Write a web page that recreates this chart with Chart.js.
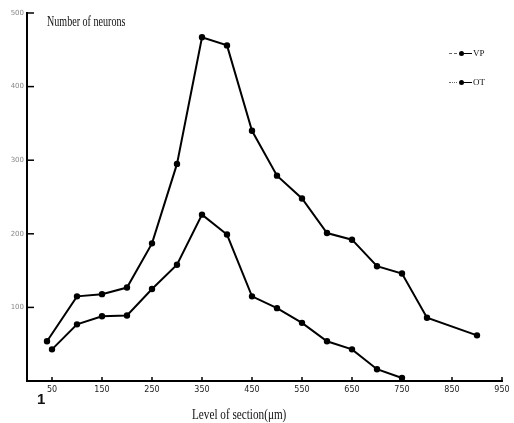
<!DOCTYPE html>
<html>
<head>
<meta charset="utf-8">
<script src="https://cdn.jsdelivr.net/npm/chart.js@4/dist/chart.umd.min.js"></script>
<style>
  body { margin: 0; background: #fff; }
  #wrap { position: relative; width: 514px; height: 423px; }
  .lbl { position: absolute; font-family: "Liberation Serif", serif; color: #111; white-space: nowrap; transform-origin: left center; }
  #ytitle { left: 47px; top: 14px; font-size: 14px; transform: scaleX(0.72); }
  #xtitle { left: 192px; top: 407px; font-size: 14px; transform: scaleX(0.8); }
  #fig { left: 37px; top: 390px; font-family: "Liberation Sans", sans-serif; font-weight: bold; font-size: 15px; }
  .leg { position: absolute; left: 449px; height: 10px; font-family: "Liberation Serif", serif; font-size: 9px; color: #111; display: flex; align-items: center; }
  .leg .pre { width: 8px; border-top: 1px dashed #666; margin-right: 2px; }
  .leg .pre.dot { border-top-style: dotted; }
  .leg .dot5 { width: 5px; height: 5px; border-radius: 50%; background: #000; }
  .leg .ln { width: 8px; border-top: 1.5px solid #000; margin-right: 1px; }
</style>
</head>
<body>
<div id="wrap">
  <canvas id="chart" width="514" height="423"></canvas>
  <div class="lbl" id="ytitle">Number of neurons</div>
  <div class="lbl" id="xtitle">Level of section(μm)</div>
  <div class="lbl" id="fig">1</div>
  <div class="leg" style="top:48px"><span class="pre"></span><span class="dot5"></span><span class="ln"></span>VP</div>
  <div class="leg" style="top:77px"><span class="pre dot"></span><span class="dot5"></span><span class="ln"></span>OT</div>
</div>
<script>
const vpLevels = [40, 100, 150, 200, 250, 300, 350, 400, 450, 500, 550, 600, 650, 700, 750, 800, 900];
const vpCounts = [54, 115, 118, 127, 187, 295, 467, 456, 340, 279, 248, 201, 192, 156, 146, 86, 62];
const otLevels = [50, 100, 150, 200, 250, 300, 350, 400, 450, 500, 550, 600, 650, 700, 750];
const otCounts = [43, 77, 88, 89, 125, 158, 226, 199, 115, 99, 79, 54, 43, 16, 4];
const xTickValues = [50, 150, 250, 350, 450, 550, 650, 750, 850, 950];
const yTickValues = [100, 200, 300, 400, 500];

const ctx = document.getElementById('chart').getContext('2d');

// short tick marks pointing into the plot
const innerTicks = {
  id: 'innerTicks',
  afterDraw(chart) {
    const { ctx, scales: { x, y } } = chart;
    ctx.save();
    ctx.strokeStyle = '#000';
    ctx.lineWidth = 1.5;
    yTickValues.forEach(v => {
      const py = y.getPixelForValue(v);
      ctx.beginPath();
      ctx.moveTo(x.left, py);
      ctx.lineTo(x.left + 7, py);
      ctx.stroke();
    });
    xTickValues.forEach(v => {
      const px = x.getPixelForValue(v);
      ctx.beginPath();
      ctx.moveTo(px, y.bottom);
      ctx.lineTo(px, y.bottom - 4);
      ctx.stroke();
    });
    ctx.restore();
  }
};

function series(levels, counts) {
  return levels.map((lv, i) => ({ x: lv, y: counts[i] }));
}

new Chart(ctx, {
  type: 'line',
  data: {
    datasets: [
      {
        label: 'VP',
        data: series(vpLevels, vpCounts),
        borderColor: '#000',
        backgroundColor: '#000',
        borderWidth: 2,
        pointRadius: 2.2,
        tension: 0
      },
      {
        label: 'OT',
        data: series(otLevels, otCounts),
        borderColor: '#000',
        backgroundColor: '#000',
        borderWidth: 2,
        pointRadius: 2.2,
        tension: 0
      }
    ]
  },
  options: {
    responsive: false,
    animation: false,
    layout: { padding: { top: 13, right: 12, left: 0, bottom: 0 } },
    plugins: { legend: { display: false }, tooltip: { enabled: false } },
    scales: {
      x: {
        type: 'linear',
        min: 0,
        max: 950,
        afterBuildTicks: s => { s.ticks = xTickValues.map(v => ({ value: v })); },
        afterFit: s => { s.height = 42; },
        grid: { drawOnChartArea: false, drawTicks: false },
        border: { color: '#000', width: 2 },
        ticks: {
          autoSkip: false,
          maxRotation: 0,
          padding: 4,
          color: '#222',
          font: { family: 'DejaVu Sans', size: 8 }
        }
      },
      y: {
        min: 0,
        max: 500,
        afterBuildTicks: s => { s.ticks = yTickValues.map(v => ({ value: v })); },
        afterFit: s => { s.width = 27; },
        grid: { drawOnChartArea: false, drawTicks: false },
        border: { color: '#000', width: 2 },
        ticks: {
          padding: 3,
          color: '#888',
          font: { family: 'DejaVu Sans', size: 7 }
        }
      }
    }
  },
  plugins: [innerTicks]
});
</script>
</body>
</html>
